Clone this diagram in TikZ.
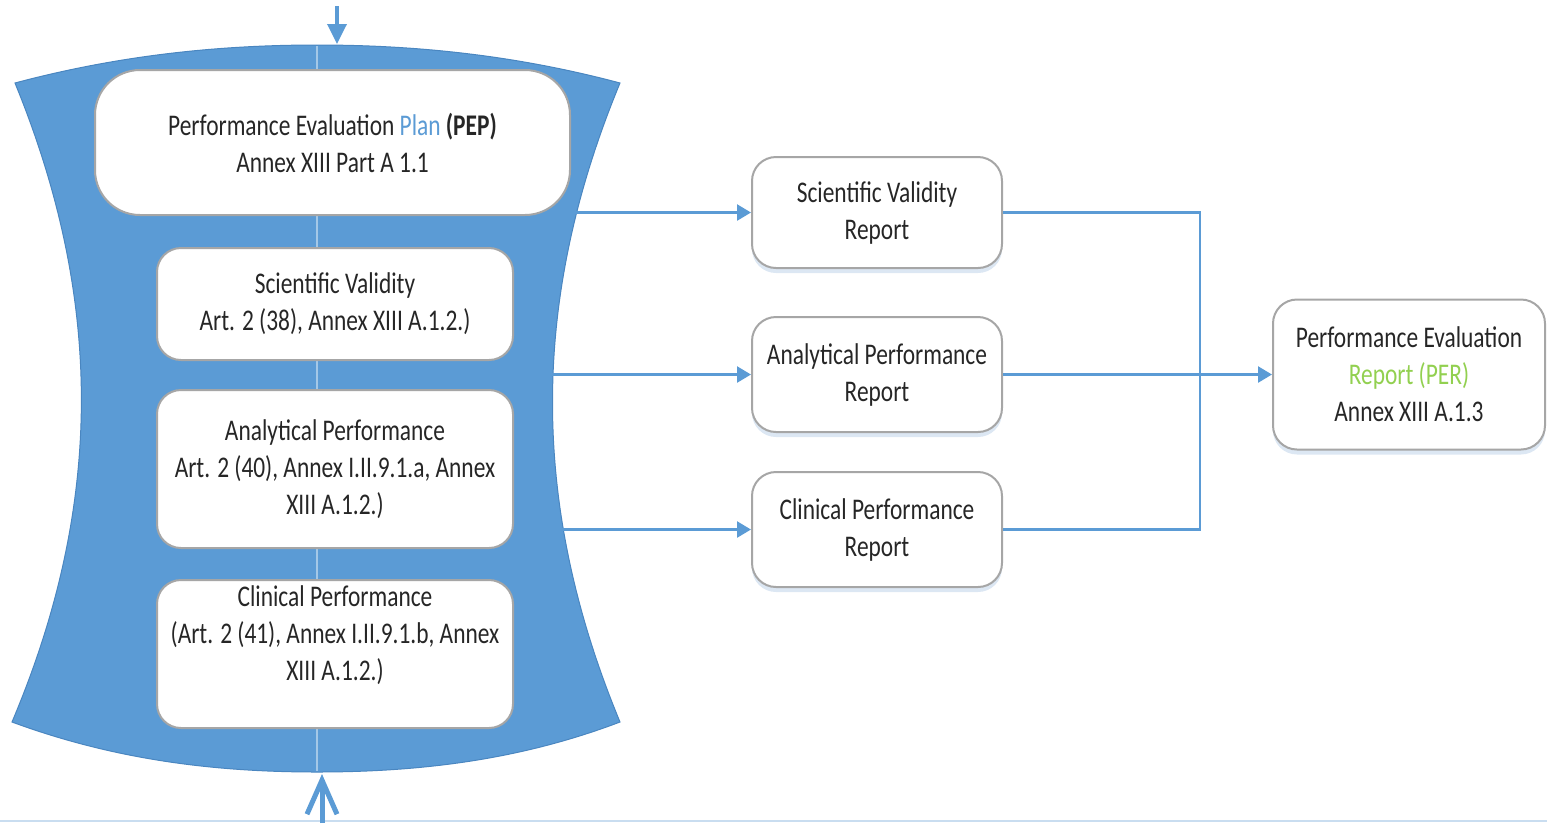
\documentclass[tikz,border=0pt]{standalone}
\usepackage{fontspec}
\setmainfont{Carlito}[FakeStretch=0.78]
\usetikzlibrary{arrows.meta,shadows}
\definecolor{oblue}{HTML}{5B9BD5}
\definecolor{dblue}{HTML}{4A86C0}
\definecolor{bgray}{HTML}{A6A6A6}
\definecolor{tgray}{HTML}{262626}
\definecolor{ogreen}{HTML}{92D050}
\definecolor{shad}{HTML}{DCE7F3}
\definecolor{lline}{HTML}{C9DDF0}
\begin{document}
\begin{tikzpicture}[x=1pt,y=-1pt,
  txt/.style={align=center, text=tgray, font=\fontsize{30}{37}\selectfont, inner sep=0pt},
  box/.style={txt, draw=bgray, line width=2pt, fill=white, rounded corners=24pt},
  rbox/.style={box, minimum width=250pt, drop shadow={shadow xshift=0pt,shadow yshift=-5pt,fill=shad,opacity=1}},
  conn/.style={draw=oblue, line width=2.5pt},
  arr/.style={conn, -{Triangle[length=14pt,width=16pt]}}]
\useasboundingbox (0,0) rectangle (1547,823);
% faint bottom rule
\draw[lline, line width=1.5pt] (0,821) -- (1547,821);
% blue shape
\path[fill=oblue, draw=dblue, line width=1pt]
  (15,83) .. controls (120,55) and (220,45) .. (317,45)
  .. controls (415,45) and (515,55) .. (620,83)
  .. controls (530,300) and (530,505) .. (620,722)
  .. controls (520,760) and (420,772) .. (317,772)
  .. controls (215,772) and (115,760) .. (12,722)
  .. controls (104,505) and (104,300) .. (15,83) -- cycle;
\draw[white, opacity=0.45, line width=2pt] (317,46) -- (317,771);
% inner boxes
\node[box, rounded corners=45pt, minimum width=475pt, minimum height=145pt] (pep) at (332.5,142.5)
  {Performance Evaluation \textcolor{oblue}{Plan} \textbf{(PEP)}\\Annex XIII Part A 1.1};
\node[box, minimum width=356pt, minimum height=112pt] (sv) at (335,304)
  {Scientific Validity\\Art. 2 (38), Annex XIII A.1.2.)};
\node[box, minimum width=356pt, minimum height=158pt] (ap) at (335,469)
  {Analytical Performance\\Art. 2 (40), Annex I.II.9.1.a, Annex\\XIII A.1.2.)};
\node[box, minimum width=356pt, minimum height=148pt] (cp) at (335,654) {};
\node[txt] (cptxt) at (335,635)
  {Clinical Performance\\(Art. 2 (41), Annex I.II.9.1.b, Annex\\XIII A.1.2.)};
% report boxes
\node[rbox, minimum height=111pt] (svr) at (877,212.5) {Scientific Validity\\Report};
\node[rbox, minimum height=115pt] (apr) at (877,374.5) {Analytical Performance\\Report};
\node[rbox, minimum height=115pt] (cpr) at (877,529.5) {Clinical Performance\\Report};
\node[rbox, minimum width=272pt, minimum height=150pt] (per) at (1409,374.5)
  {Performance Evaluation\\\textcolor{ogreen}{Report (PER)}\\Annex XIII A.1.3};
% connectors
\coordinate (o1) at (570,212.5);
\coordinate (o2) at (551,374.5);
\coordinate (o3) at (558,529.5);
\coordinate (jn) at (1200,374.5);
\draw[arr] (o1) -- (svr.west);
\draw[arr] (o2) -- (apr.west);
\draw[arr] (o3) -- (cpr.west);
\draw[conn] (svr.east) -| (jn) |- (cpr.east);
\draw[arr] (apr.east) -- (per.west);
% top and bottom arrows
\coordinate (topin) at (337,6);
\coordinate (toptip) at (337,44);
\draw[conn, line width=3.5pt, -{Triangle[length=20pt,width=19pt]}] (topin) -- (toptip);
\coordinate (botin) at (322,823);
\coordinate (bottip) at (322,774);
\draw[conn, line width=5pt, -{Straight Barb[length=34pt,width=30pt]}] (botin) -- (bottip);
\end{tikzpicture}
\end{document}
